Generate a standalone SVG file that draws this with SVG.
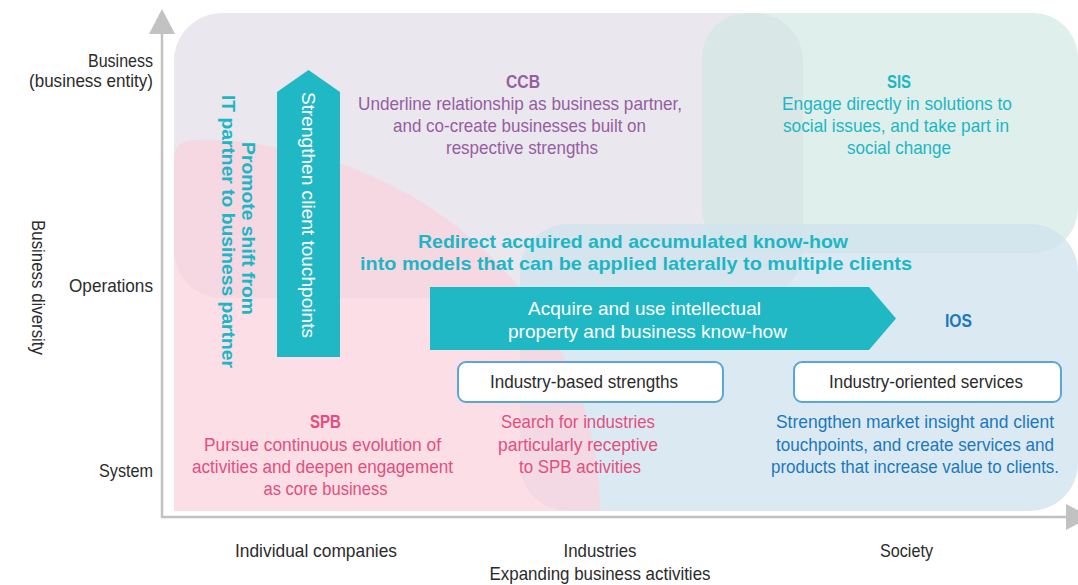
<svg xmlns="http://www.w3.org/2000/svg" width="1078" height="585" viewBox="0 0 1078 585">
<style>
text{font-family:"Liberation Sans",Arial,sans-serif;font-size:18.5px;text-anchor:middle}
.ax{fill:#2b2b2b}
.axr{fill:#2b2b2b;text-anchor:end}
.b{font-weight:bold}
.pur{fill:#955ea0}
.tea{fill:#1db6c4}
.pnk{fill:#e24f80}
.blu{fill:#1c78be}
.wht{fill:#ffffff}
.dk{fill:#2b2b2b}
.axis{stroke:#c2c2c2;stroke-width:2.5;fill:none}
.box{fill:#ffffff;stroke:#5ba6d8;stroke-width:2}
.arw{fill:#20b8c4}
</style>
<defs>
<marker id="axhead" viewBox="0 0 25 26" refX="0" refY="13" markerWidth="25" markerHeight="26" markerUnits="userSpaceOnUse" orient="auto">
<path d="M0,0 L25,13 L0,26 Z" fill="#c2c2c2"/>
</marker>
</defs>

<g id="region-ccb">
<rect x="174" y="13" width="629" height="285" rx="48" fill="#ebe7ef"/>
<text class="pur b" x="523" y="88" font-size="19" textLength="34" lengthAdjust="spacingAndGlyphs">CCB</text>
<text class="pur" x="520" y="110" textLength="324" lengthAdjust="spacingAndGlyphs">Underline relationship as business partner,</text>
<text class="pur" x="519.5" y="132" textLength="253" lengthAdjust="spacingAndGlyphs">and co-create businesses built on</text>
<text class="pur" x="522" y="154" textLength="152" lengthAdjust="spacingAndGlyphs">respective strengths</text>
</g>

<g id="region-sis">
<rect x="702" y="13" width="376" height="240" rx="45" fill="#d1e8e2" fill-opacity="0.7"/>
<text class="tea b" x="899" y="88" font-size="19" textLength="24" lengthAdjust="spacingAndGlyphs">SIS</text>
<text class="tea" x="897" y="110" textLength="230" lengthAdjust="spacingAndGlyphs">Engage directly in solutions to</text>
<text class="tea" x="896" y="132" textLength="226" lengthAdjust="spacingAndGlyphs">social issues, and take part in</text>
<text class="tea" x="899" y="154" textLength="104" lengthAdjust="spacingAndGlyphs">social change</text>
</g>

<g id="region-ios">
<rect x="520" y="224" width="558" height="287" rx="48" fill="#cfe3ee" fill-opacity="0.75"/>
<text class="blu b" x="958.5" y="327" font-size="19" textLength="27" lengthAdjust="spacingAndGlyphs">IOS</text>
<text class="blu" x="915" y="428" textLength="278" lengthAdjust="spacingAndGlyphs">Strengthen market insight and client</text>
<text class="blu" x="915" y="451" textLength="278" lengthAdjust="spacingAndGlyphs">touchpoints, and create services and</text>
<text class="blu" x="915" y="473" font-size="17" textLength="288" lengthAdjust="spacingAndGlyphs">products that increase value to clients.</text>
</g>

<g id="region-spb">
<path d="M174,511 L174,160 Q174,140 194,140 L200,140 A400,371 0 0 1 600,511 Z" fill="#fad3de" fill-opacity="0.75"/>
<text class="pnk b" x="325.5" y="428" font-size="19" textLength="31" lengthAdjust="spacingAndGlyphs">SPB</text>
<text class="pnk" x="322.5" y="451" textLength="237" lengthAdjust="spacingAndGlyphs">Pursue continuous evolution of</text>
<text class="pnk" x="322.5" y="473" textLength="261" lengthAdjust="spacingAndGlyphs">activities and deepen engagement</text>
<text class="pnk" x="325.5" y="495" textLength="124" lengthAdjust="spacingAndGlyphs">as core business</text>
</g>

<g id="text-search">
<text class="pnk" x="578" y="428" textLength="154" lengthAdjust="spacingAndGlyphs">Search for industries</text>
<text class="pnk" x="578" y="451" textLength="160" lengthAdjust="spacingAndGlyphs">particularly receptive</text>
<text class="pnk" x="580" y="473" textLength="122" lengthAdjust="spacingAndGlyphs">to SPB activities</text>
</g>

<g id="text-redirect">
<text class="tea b" x="633" y="248" font-size="21" textLength="430" lengthAdjust="spacingAndGlyphs">Redirect acquired and accumulated know-how</text>
<text class="tea b" x="636" y="270" font-size="21" textLength="552" lengthAdjust="spacingAndGlyphs">into models that can be applied laterally to multiple clients</text>
</g>

<g id="text-promote">
<text class="tea b" transform="translate(242,228.5) rotate(90)" font-size="19" textLength="173" lengthAdjust="spacingAndGlyphs">Promote shift from</text>
<text class="tea b" transform="translate(222,231.5) rotate(90)" font-size="19" textLength="273" lengthAdjust="spacingAndGlyphs">IT partner to business partner</text>
</g>

<g id="arrow-vertical">
<polygon class="arw" points="277,92 308.5,70 340,92 340,357 277,357"/>
<text class="wht" transform="translate(302,215) rotate(90)" textLength="246" lengthAdjust="spacingAndGlyphs">Strengthen client touchpoints</text>
</g>

<g id="arrow-horizontal">
<polygon class="arw" points="430,287 869,287 896,318.5 869,350 430,350"/>
<text class="wht" x="644.5" y="315" font-size="19.5" textLength="233" lengthAdjust="spacingAndGlyphs">Acquire and use intellectual</text>
<text class="wht" x="647.5" y="338" font-size="19.5" textLength="279" lengthAdjust="spacingAndGlyphs">property and business know-how</text>
</g>

<g id="box-industry-based">
<rect class="box" x="458" y="362" width="265" height="40" rx="8"/>
<text class="dk" x="584" y="388" textLength="188" lengthAdjust="spacingAndGlyphs">Industry-based strengths</text>
</g>

<g id="box-industry-oriented">
<rect class="box" x="794" y="362" width="267" height="40" rx="8"/>
<text class="dk" x="926" y="388" textLength="194" lengthAdjust="spacingAndGlyphs">Industry-oriented services</text>
</g>

<g id="connectors">
<line class="axis" x1="162" y1="518" x2="162" y2="34" marker-end="url(#axhead)"/>
<line class="axis" x1="161" y1="517" x2="1066" y2="517" marker-end="url(#axhead)"/>
</g>

<g id="axis-labels">
<text class="axr" x="153" y="67" textLength="65" lengthAdjust="spacingAndGlyphs">Business</text>
<text class="axr" x="153" y="87" textLength="124" lengthAdjust="spacingAndGlyphs">(business entity)</text>
<text class="axr" x="153" y="292" textLength="84" lengthAdjust="spacingAndGlyphs">Operations</text>
<text class="axr" x="153" y="477" textLength="54" lengthAdjust="spacingAndGlyphs">System</text>
<text class="ax" transform="translate(32,287.5) rotate(90)" textLength="135" lengthAdjust="spacingAndGlyphs">Business diversity</text>
<text class="ax" x="316" y="557" textLength="162" lengthAdjust="spacingAndGlyphs">Individual companies</text>
<text class="ax" x="600" y="557" textLength="73" lengthAdjust="spacingAndGlyphs">Industries</text>
<text class="ax" x="600" y="580" textLength="221" lengthAdjust="spacingAndGlyphs">Expanding business activities</text>
<text class="ax" x="906.5" y="557" textLength="53" lengthAdjust="spacingAndGlyphs">Society</text>
</g>
</svg>
